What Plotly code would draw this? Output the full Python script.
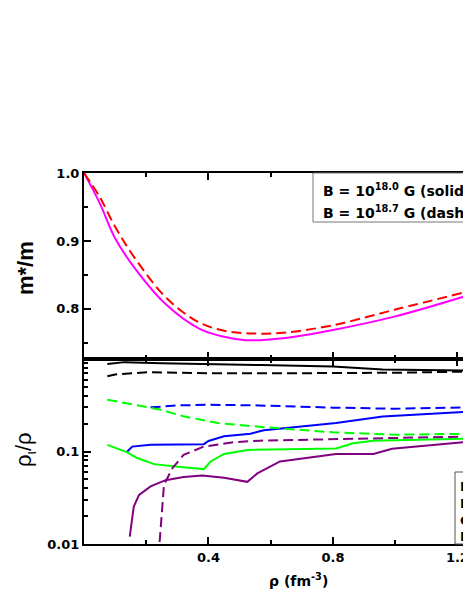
import plotly.graph_objects as go

# effective mass ratio (upper panel)
rho_mag = [0, 0.05, 0.10, 0.16, 0.265, 0.37, 0.45, 0.52, 0.64, 0.80, 1.0, 1.22]
meff_mag = [1.0, 0.956, 0.904, 0.862, 0.806, 0.771, 0.759, 0.754, 0.757, 0.769, 0.789, 0.818]
rho_red = [0, 0.05, 0.10, 0.16, 0.265, 0.37, 0.45, 0.53, 0.64, 0.80, 1.0, 1.22]
meff_red = [1.0, 0.965, 0.921, 0.877, 0.816, 0.780, 0.768, 0.764, 0.765, 0.776, 0.799, 0.824]

# particle fractions (lower panel), solid = 10^18.0 G, dashed = 10^18.7 G
rho_k_s = [0.075, 0.13, 0.25, 0.40, 0.57, 0.80, 0.96, 1.22]
frac_k_s = [0.885, 0.925, 0.90, 0.885, 0.86, 0.83, 0.77, 0.75]
rho_k_d = [0.075, 0.10, 0.21, 0.40, 0.60, 0.80, 1.0, 1.22]
frac_k_d = [0.65, 0.68, 0.72, 0.70, 0.70, 0.705, 0.71, 0.73]

rho_b_s = [0.139, 0.155, 0.214, 0.385, 0.40, 0.45, 0.535, 0.578, 0.81, 0.96, 1.22]
frac_b_s = [0.10, 0.113, 0.118, 0.12, 0.13, 0.146, 0.156, 0.17, 0.203, 0.239, 0.267]
rho_b_d = [0.214, 0.30, 0.40, 0.56, 0.80, 1.0, 1.22]
frac_b_d = [0.30, 0.315, 0.32, 0.315, 0.298, 0.29, 0.30]

rho_g_s = [0.075, 0.139, 0.171, 0.225, 0.31, 0.385, 0.407, 0.45, 0.525, 0.81, 0.865, 0.93, 1.22]
frac_g_s = [0.118, 0.098, 0.085, 0.073, 0.068, 0.0645, 0.078, 0.094, 0.104, 0.108, 0.123, 0.131, 0.137]
rho_g_d = [0.075, 0.246, 0.32, 0.43, 0.565, 0.80, 1.0, 1.22]
frac_g_d = [0.363, 0.283, 0.24, 0.203, 0.185, 0.161, 0.152, 0.155]

rho_p_s = [0.147, 0.16, 0.177, 0.214, 0.262, 0.32, 0.38, 0.45, 0.525, 0.557, 0.63, 0.81, 0.93, 0.99, 1.22]
frac_p_s = [0.012, 0.0254, 0.034, 0.042, 0.049, 0.053, 0.055, 0.052, 0.047, 0.058, 0.078, 0.094, 0.094, 0.107, 0.126]
rho_p_d = [0.243, 0.250, 0.257, 0.284, 0.32, 0.385, 0.48, 0.565, 1.22]
frac_p_d = [0.0105, 0.022, 0.0435, 0.066, 0.092, 0.113, 0.126, 0.131, 0.145]

upper_legend = ['B = 10<sup>18.0</sup> G (solid line)', 'B = 10<sup>18.7</sup> G (dashed line)']
lower_legend = ['Bulk', 'Bubble', 'Cluster', 'Proton']

ARIAL = 'Arial, Liberation Sans, sans-serif'
WIDE = 'DejaVu Sans, sans-serif'
DASH = '10px,5px'


# positions, mapped into the plot area (x 84..463, y 173..544)
def px(x):
    return (x - 84) / 379


def py(y):
    return (544 - y) / 371


fig = go.Figure()

fig.add_trace(go.Scatter(x=rho_mag, y=meff_mag, mode='lines', line=dict(color='#ff00ff', width=2, shape='spline'),
                         xaxis='x', yaxis='y'))
fig.add_trace(go.Scatter(x=rho_red, y=meff_red, mode='lines', line=dict(color='#ff0000', width=2, dash=DASH, shape='spline'),
                         xaxis='x', yaxis='y'))

lower = [
    (rho_k_s, frac_k_s, 'black', 'solid'), (rho_k_d, frac_k_d, 'black', DASH),
    (rho_b_s, frac_b_s, '#0000ff', 'solid'), (rho_b_d, frac_b_d, '#0000ff', DASH),
    (rho_g_s, frac_g_s, '#00ff00', 'solid'), (rho_g_d, frac_g_d, '#00ff00', DASH),
    (rho_p_s, frac_p_s, '#800080', 'solid'), (rho_p_d, frac_p_d, '#800080', DASH),
]
for xs, ys, c, d in lower:
    fig.add_trace(go.Scatter(x=xs, y=ys, mode='lines', line=dict(color=c, width=2, dash=d),
                             xaxis='x2', yaxis='y2'))

split = py(359)
tickfont = dict(family=WIDE, size=13, color='black', weight='bold')
ax_common = dict(range=[0, 1.218], showline=True, linecolor='black', linewidth=2, mirror='ticks',
                 ticks='inside', ticklen=7, tickwidth=1.5, tickcolor='black', showgrid=False, zeroline=False,
                 tickvals=[0.4, 0.8, 1.2], automargin=False, ticklabeloverflow='allow',
                 minor=dict(ticks='inside', ticklen=4, tickwidth=1.5, tickcolor='black', tick0=0, dtick=0.2))

fig.update_layout(
    width=463, height=599,
    margin=dict(l=84, r=0, t=173, b=55),
    paper_bgcolor='white', plot_bgcolor='white',
    showlegend=False,
    font=dict(family=ARIAL, size=13, color='black'),
    xaxis=dict(ax_common, domain=[0, 1], anchor='y', showticklabels=False),
    yaxis=dict(domain=[split, 1], anchor='x', range=[0.7263, 1.0], showline=True, linecolor='black', linewidth=2,
               ticks='inside', ticklen=7, tickwidth=1.5, tickcolor='black', showgrid=False, zeroline=False,
               tickvals=[0.8, 0.9, 1.0], ticktext=['0.8', '0.9', '1.0'], tickfont=tickfont, automargin=False,
               minor=dict(ticks='inside', ticklen=4, tickwidth=1.5, tickcolor='black', tickvals=[0.75, 0.85, 0.95])),
    xaxis2=dict(ax_common, domain=[0, 1], anchor='y2', ticktext=['0.4', '0.8', '1.2'], tickfont=tickfont),
    yaxis2=dict(domain=[0, split], anchor='x2', type='log', range=[-2, 0], showline=True, linecolor='black',
                linewidth=2, ticks='inside', ticklen=7, tickwidth=1.5, tickcolor='black', showgrid=False,
                zeroline=False, tickvals=[0.01, 0.1, 1], ticktext=['0.01', '0.1', ''], tickfont=tickfont,
                automargin=False,
                minor=dict(ticks='inside', ticklen=4, tickwidth=1.5, tickcolor='black',
                           tickvals=[k * 10.0 ** e for e in (-2, -1) for k in range(2, 10)])),
)

# legend box, upper panel
fig.add_shape(type='rect', xref='paper', yref='paper', x0=px(313), x1=1.3, y0=py(222), y1=1,
              line=dict(color='#777777', width=1), fillcolor='white', layer='above')
for i, t in enumerate(upper_legend):
    fig.add_annotation(xref='paper', yref='paper', x=px(321), y=py(190 + 22 * i),
                       xanchor='left', yanchor='middle', showarrow=False, text=t,
                       font=dict(family=WIDE, size=14, color='black', weight='bold'))

# legend box, lower panel
fig.add_shape(type='rect', xref='paper', yref='paper', x0=px(455), x1=1.3, y0=0, y1=py(472),
              line=dict(color='#555555', width=1), fillcolor='white', layer='above')
for i, t in enumerate(lower_legend):
    fig.add_annotation(xref='paper', yref='paper', x=px(458), y=py(486.5 + 16.8 * i),
                       xanchor='left', yanchor='middle', showarrow=False, text=t,
                       font=dict(family=WIDE, size=13, color='black', weight='bold'))

# axis titles
fig.add_annotation(xref='paper', yref='paper', x=px(25), y=py(268), xanchor='center', yanchor='middle',
                   textangle=-90, showarrow=False, text='m*/m',
                   font=dict(family=ARIAL, size=22, color='black', weight='bold'))
fig.add_annotation(xref='paper', yref='paper', x=px(25), y=py(450), xanchor='center', yanchor='middle',
                   textangle=-90, showarrow=False, text='ρ<sub>ι</sub>/ρ',
                   font=dict(family=ARIAL, size=22, color='black'))
fig.add_annotation(xref='paper', yref='paper', x=px(298), y=py(580), xanchor='center', yanchor='middle',
                   showarrow=False, text='ρ (fm<sup>-3</sup>)',
                   font=dict(family=WIDE, size=14, color='black', weight='bold'))

# the default page keeps an 8px body margin; drop it so the figure fills the window exactly
fig.write_html("out.html", config={'displayModeBar': False},
               post_script="document.body.style.margin='0';"
                           "document.documentElement.style.overflow='hidden';")
